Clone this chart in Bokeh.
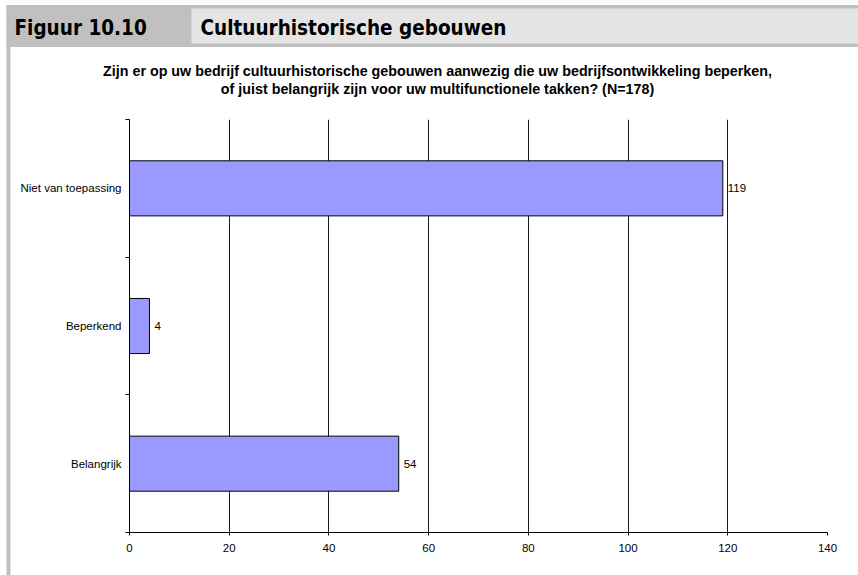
from bokeh.plotting import figure
from bokeh.models import Range1d, FixedTicker
from bokeh.core.properties import value
from bokeh.embed import file_html
from bokeh.resources import INLINE

# ---- data ----
figure_number = "Figuur 10.10"
figure_title = "Cultuurhistorische gebouwen"
chart_title = ["Zijn er op uw bedrijf cultuurhistorische gebouwen aanwezig die uw bedrijfsontwikkeling beperken,",
               "of juist belangrijk zijn voor uw multifunctionele takken? (N=178)"]
categories = ["Niet van toepassing", "Beperkend", "Belangrijk"]   # top to bottom
values = [119, 4, 54]
x_ticks = [0, 20, 40, 60, 80, 100, 120, 140]

FONT = "Liberation Sans"
NARROW = "'Liberation Sans Narrow', 'DejaVu Sans Condensed', sans-serif"
DARK = "#c0c0c0"
LIGHT = "#e4e4e4"
BAR = "#9999ff"

W, H = 858, 575
FL, FR, FT, FB = 129, 827, 119, 532   # plot frame edges in page pixels

ys = [i + 0.5 for i in range(len(categories))]
p = figure(width=W, height=H, output_backend="svg", toolbar_location=None,
           x_range=Range1d(0, 140), y_range=Range1d(len(categories), 0),
           min_border_left=FL, min_border_right=W - FR, min_border_top=FT, min_border_bottom=H - FB)
p.outline_line_color = None
p.background_fill_color = "white"
p.border_fill_color = "white"

# page-pixel ranges for the decoration outside the frame
p.extra_x_ranges = {"px": Range1d(FL, FR)}
p.extra_y_ranges = {"py": Range1d(FB, FT)}

p.hbar(y=ys, left=0, right=values, height=0.4, fill_color=BAR, line_color="black", line_width=1)
p.text(x=values, y=ys, text=[str(v) for v in values], x_offset=5,
       text_align="left", text_baseline="middle", text_font_size="11.5px",
       text_font=value(FONT), text_color="black")

# ---- header decoration (page pixel coordinates) ----
deco = dict(x_range_name="px", y_range_name="py", level="overlay")
p.quad(left=[6], right=[10], top=[4.5], bottom=[H + 20], fill_color=DARK, line_color=None, **deco)
p.quad(left=[6], right=[W + 20], top=[4.5], bottom=[46.5], fill_color=DARK, line_color=None, **deco)
p.quad(left=[191], right=[W + 20], top=[8], bottom=[43], fill_color=LIGHT, line_color=None, **deco)
p.text(x=[14, 200], y=[27.5, 27.5], text=[figure_number, figure_title],
       text_font=value(NARROW), text_font_style="bold", text_font_size="20.5px",
       text_baseline="middle", text_align="left", text_color="black", **deco)
p.text(x=[437] * len(chart_title), y=[70 + 18 * i for i in range(len(chart_title))], text=chart_title,
       text_font=value(FONT), text_font_style="bold", text_font_size="14.3px",
       text_baseline="middle", text_align="center", text_color="black", **deco)

# ---- axes ----
p.xaxis.ticker = FixedTicker(ticks=x_ticks)
p.xaxis.major_tick_out = 3
p.xaxis.major_tick_in = 0
p.xaxis.minor_tick_line_color = None
p.xaxis.axis_line_color = "black"
p.xaxis.major_tick_line_color = "black"
p.xaxis.major_label_standoff = 8
p.xaxis.major_label_text_font = FONT
p.xaxis.major_label_text_font_size = "11.5px"
p.xaxis.major_label_text_color = "black"

p.yaxis.ticker = FixedTicker(ticks=ys, minor_ticks=list(range(len(categories) + 1)))
p.yaxis.major_label_overrides = {y: c for y, c in zip(ys, categories)}
p.yaxis.major_tick_line_color = None
p.yaxis.major_tick_out = 4
p.yaxis.major_tick_in = 0
p.yaxis.minor_tick_line_color = "black"
p.yaxis.minor_tick_out = 4
p.yaxis.minor_tick_in = 0
p.yaxis.axis_line_color = "black"
p.yaxis.major_label_standoff = 4
p.yaxis.major_label_text_font = FONT
p.yaxis.major_label_text_font_size = "11.5px"
p.yaxis.major_label_text_color = "black"

p.xgrid.ticker = FixedTicker(ticks=x_ticks)
p.xgrid.grid_line_color = "#1a1a1a"
p.xgrid.grid_line_width = 1
p.ygrid.grid_line_color = None

open("out.html", "w").write(file_html(p, INLINE))
